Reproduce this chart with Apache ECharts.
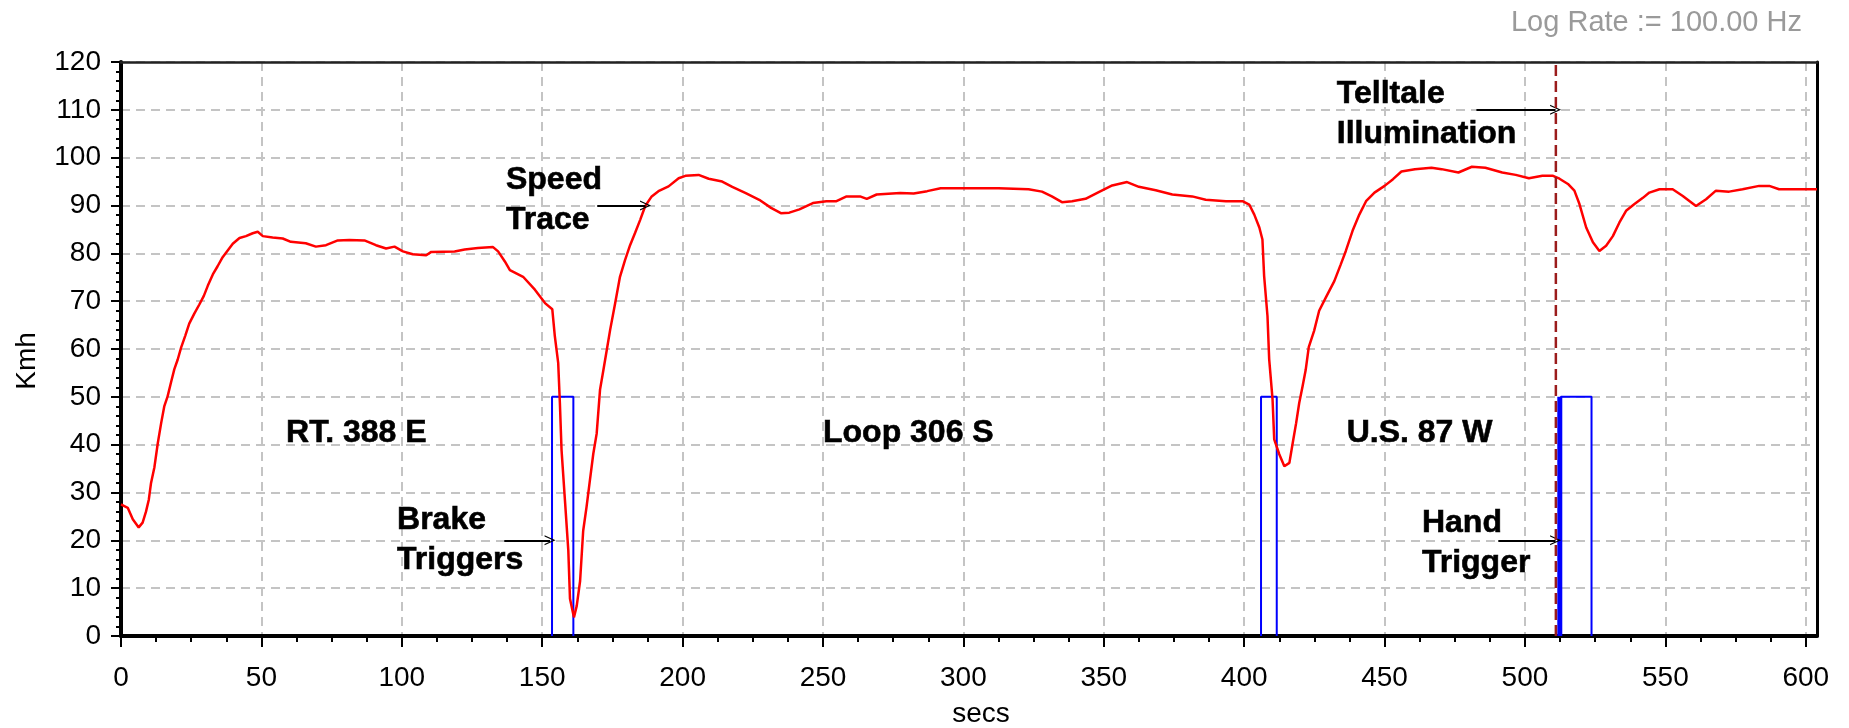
<!DOCTYPE html>
<html><head><meta charset="utf-8">
<script src="https://cdn.jsdelivr.net/npm/echarts@6/dist/echarts.min.js"></script>
<style>html,body{margin:0;padding:0;background:#fff}#c{width:1849px;height:728px}</style>
</head><body><div id="c"></div>
<script>
// ---- data ----
const timeSecs = [0,2.4,4.2,6.3,7.7,8.9,9.9,10.7,11.9,13.1,14.3,15.4,16.6,17.8,19,20.2,21.4,22.9,24.3,26.1,27.9,29.5,30.9,32.7,34.4,36.2,38,39.8,42.2,44.5,46.9,48.7,50.5,54,57.6,60.5,65.8,69.4,73,77.2,81.3,86.7,90.8,94.4,97.4,100.4,103.9,108.7,110.5,118.8,122.4,127.1,132.5,134.3,136.7,138.5,143.2,147.4,151,153.6,154.5,155.7,156.3,156.9,158.1,159.3,159.9,161.3,162.3,163.5,164.6,165.8,167,168.2,169.4,170.6,171.8,173,174.2,176,177.7,179.5,181.3,183.1,184.9,186.7,189,191.4,195,198.6,201,205.7,209.3,214.1,217.7,222.5,227.3,231.5,235,238,241.6,246.4,251.2,254.8,258.4,263.2,265.6,269.1,277.5,282.3,287.1,291.9,301.4,312.5,323.2,328,331.5,335.1,338.7,343.5,348.2,353,358.3,362.5,368.5,374.4,381.5,386.3,393.5,399.4,401.8,403.6,405.4,406.5,407.1,408.3,408.9,410.1,410.7,412.5,414.3,416.1,417.3,418.5,419.6,420.8,421.9,423,424.9,426.7,429.1,432.1,434.4,436.2,438.6,441,443.4,446.4,450,453,456,460.8,466.7,470.3,476.3,481.1,485.9,491.9,496.7,501.4,506.2,510,512.3,515.3,517.6,519.4,521.8,524.2,526.5,528.9,531.3,533.6,536,539,542,544.3,547.9,552.6,556.2,560.9,564.5,568,572.7,577.5,583.4,587,590.5,604];
const speedKmh = [27.5,26.8,24.4,22.7,23.7,26,28.5,32,35.3,40.3,44.5,48,50.1,53,55.8,57.8,60.3,62.8,65.3,67.4,69.3,71.1,73.2,75.6,77.3,79.2,80.6,82,83.2,83.6,84.2,84.5,83.6,83.3,83.1,82.4,82.1,81.4,81.7,82.7,82.8,82.7,81.7,81,81.4,80.4,79.8,79.6,80.3,80.4,80.8,81.1,81.3,80.4,78.3,76.5,75.1,72.4,69.6,68.3,62.7,57.1,48.7,38.8,28.4,17.9,7.8,3.9,6.3,11.5,22,27,32.6,38.1,42.3,51.5,55.6,59.8,64,69.6,75.1,78.6,81.7,84.3,87,89.9,91.9,93,94,95.7,96.2,96.4,95.6,95,93.9,92.6,91.2,89.5,88.4,88.5,89.2,90.5,90.9,90.9,91.9,91.9,91.4,92.3,92.6,92.5,93,93.6,93.6,93.6,93.4,92.9,91.9,90.7,90.9,91.4,92.8,94.2,94.9,93.9,93.2,92.3,91.9,91.2,90.9,90.9,90.2,88.1,85.4,82.9,75.3,66.9,57.9,49.5,41.1,38,35.5,36.2,40.4,44.5,48.7,52.2,55.6,60.4,63.8,68,70.8,74.2,77.7,80.5,84.7,88.1,90.9,92.7,94.1,95.5,97.1,97.6,97.9,97.6,96.9,98.1,97.9,96.9,96.4,95.7,96.2,96.2,95.6,94.5,93.1,90.3,85.4,82.3,80.5,81.6,83.6,86.4,88.9,90.3,91.6,92.7,93.4,93.4,92,89.9,91.3,93.1,92.9,93.4,94.1,94.1,93.4,93.4];
const brakeOn = [153.5, 406.0, 512.8];
const brakeOff = [161.1, 411.6, 523.7];
const brakeLevel = 50;
const handTriggerAt = 512.4;
const telltaleAt = 511;
const xMin = 0, xMax = 604, xTickMax = 600, xInterval = 50;
const yMin = 0, yMax = 120, yInterval = 10;
const annotationTexts = ['Speed\nTrace', 'Brake\nTriggers', 'RT. 388 E', 'Loop 306 S', 'U.S. 87 W', 'Telltale\nIllumination', 'Hand\nTrigger'];
const annotationX = [137.1, 98.3, 58.8, 250.0, 436.5, 433.0, 463.3];
const annotationY = [91.2, 20.1, 42.4, 42.4, 42.4, 109.1, 19.4];
const arrowFromX = [169.6, 136.5, 482.7, 490.5];
const arrowToX   = [186.8, 152.8, 510.9, 510.9];
const arrowY     = [90, 20, 110, 20];
const logRateText = 'Log Rate := 100.00 Hz';

// ---- build ----
const FONT = "'Liberation Sans', Arial, sans-serif";
const speedData = timeSecs.map((t, i) => [t, speedKmh[i]]);
const chart = echarts.init(document.getElementById('c'), null, {renderer: 'canvas'});
const W = 1849, left = 121, right = 32;
const pxPerUnit = (W - left - right) / (xMax - xMin);
const right2 = W - (left + (xTickMax - xMin) * pxPerUnit);
const gridLine = {show: true, lineStyle: {color: '#c4c4c4', width: 2, type: [9, 6]}};

const series = [];
brakeOn.forEach((on, i) => {
  series.push({type: 'line', xAxisIndex: 0, yAxisIndex: 0, showSymbol: false, silent: true, z: 3,
    lineStyle: {color: '#0000ff', width: 2},
    data: [[on, 0], [on, brakeLevel], [brakeOff[i], brakeLevel], [brakeOff[i], 0]]});
});
series.push({type: 'line', xAxisIndex: 0, yAxisIndex: 0, showSymbol: false, z: 3,
  lineStyle: {color: '#0000ff', width: 5}, data: [[handTriggerAt, 0], [handTriggerAt, brakeLevel]]});
series.push({type: 'line', xAxisIndex: 0, yAxisIndex: 0, showSymbol: false, z: 4,
  lineStyle: {color: '#ff0000', width: 2.5}, data: speedData});
series.push({type: 'line', xAxisIndex: 0, yAxisIndex: 0, showSymbol: false, z: 5,
  lineStyle: {color: '#9b1c1c', width: 2.5, type: [11, 5]}, data: [[telltaleAt, yMin], [telltaleAt, yMax]]});
series.push({type: 'scatter', xAxisIndex: 0, yAxisIndex: 0, symbolSize: 0, z: 6, silent: true,
  itemStyle: {opacity: 1, color: '#000'},
  label: {show: true, position: 'right', distance: 0, fontSize: 32, fontWeight: 'bold', color: '#000', opacity: 1,
    fontFamily: FONT, lineHeight: 40, align: 'left', textBorderColor: '#000', textBorderWidth: 0.6},
  data: annotationTexts.map((txt, i) => ({value: [annotationX[i], annotationY[i]], label: {formatter: txt}}))});
const chevron = 'path://M0,12 L6,0 L12,12 L10.5,12 L6,3 L1.5,12 Z';
series.push({type: 'line', xAxisIndex: 0, yAxisIndex: 0, data: [], z: 6,
  markLine: {silent: true, animation: false, symbol: ['none', chevron], symbolSize: [10, 11],
    lineStyle: {color: '#000', width: 2, type: 'solid'}, label: {show: false},
    data: arrowY.map((y, i) => [{coord: [arrowFromX[i], y]}, {coord: [arrowToX[i], y]}])}});

chart.setOption({
  animation: false,
  backgroundColor: '#fff',
  textStyle: {fontFamily: FONT},
  grid: [
    {left: left, right: right, top: 62, bottom: 92, show: false, containLabel: false, outerBoundsMode: 'none'},
    {left: left, right: right2, top: 62, bottom: 92, show: false, containLabel: false, outerBoundsMode: 'none'}
  ],
  xAxis: [
    {type: 'value', gridIndex: 0, min: xMin, max: xMax, interval: xInterval, z: 1,
      axisLine: {show: true, onZero: false, lineStyle: {color: '#000', width: 4}},
      axisTick: {show: false}, axisLabel: {show: false}, splitLine: gridLine,
      name: 'secs', nameLocation: 'middle', nameGap: 64,
      nameTextStyle: {fontSize: 28, color: '#000', fontFamily: FONT, padding: [0, 0, 0, 24]}},
    {type: 'value', gridIndex: 1, min: xMin, max: xTickMax, interval: xInterval, z: 2,
      axisLine: {show: false, onZero: false},
      axisTick: {show: true, length: 11, lineStyle: {color: '#000', width: 2}},
      minorTick: {show: true, splitNumber: 4, length: 6, lineStyle: {color: '#000', width: 2}},
      axisLabel: {fontSize: 28, color: '#000', margin: 28, fontFamily: FONT},
      splitLine: {show: false}},
    {type: 'value', gridIndex: 0, position: 'top', min: xMin, max: xMax, z: 3,
      axisLine: {show: true, onZero: false, lineStyle: {color: '#222', width: 2.5}},
      axisTick: {show: false}, axisLabel: {show: false}, splitLine: {show: false}}
  ],
  yAxis: [
    {type: 'value', gridIndex: 0, min: yMin, max: yMax, interval: yInterval, z: 1,
      axisLine: {show: true, onZero: false, lineStyle: {color: '#000', width: 4}},
      axisTick: {show: true, length: 10, lineStyle: {color: '#000', width: 2}},
      minorTick: {show: true, splitNumber: 5, length: 5, lineStyle: {color: '#000', width: 2}},
      axisLabel: {fontSize: 28, color: '#000', margin: 20, fontFamily: FONT},
      splitLine: gridLine,
      name: 'Kmh', nameLocation: 'middle', nameGap: 80, nameRotate: 90,
      nameTextStyle: {fontSize: 28, color: '#000', fontFamily: FONT, padding: [0, 24, 0, 0]}},
    {type: 'value', gridIndex: 1, min: yMin, max: yMax, show: false},
    {type: 'value', gridIndex: 0, position: 'right', min: yMin, max: yMax, z: 3,
      axisLine: {show: true, onZero: false, lineStyle: {color: '#000', width: 3}},
      axisTick: {show: false}, axisLabel: {show: false}, splitLine: {show: false}}
  ],
  graphic: [{type: 'text', right: 47, top: 8, z: 10,
    style: {text: logRateText, fontSize: 29, fontFamily: FONT, fill: '#9a9a9a'}}],
  series: series
});
</script></body></html>
